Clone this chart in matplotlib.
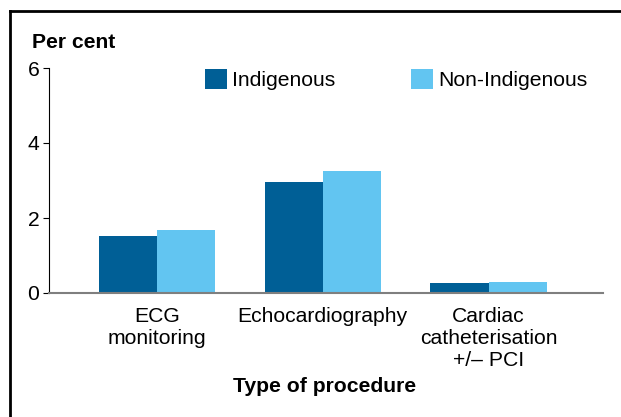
import matplotlib
matplotlib.use("Agg")
import matplotlib.pyplot as plt
from matplotlib.lines import Line2D
import numpy as np

plt.rcParams['font.family'] = ['Liberation Sans', 'DejaVu Sans']

categories = ["ECG\nmonitoring", "Echocardiography", "Cardiac\ncatheterisation\n+/\u2013 PCI"]
indigenous = [1.53, 2.95, 0.26]
non_indigenous = [1.69, 3.25, 0.29]
series_names = ["Indigenous", "Non-Indigenous"]
yticks = [0, 2, 4, 6]

W, H = 621, 417
FS = 15.2
fig = plt.figure(figsize=(W / 100, H / 100), dpi=100)
ax = fig.add_axes([49 / W, 1 - 293 / H, (603 - 49) / W, (293 - 68) / H])

x = np.arange(len(categories))
bw = 0.35
ax.bar(x - bw / 2, indigenous, bw, color="#005F96", label=series_names[0], linewidth=0)
ax.bar(x + bw / 2, non_indigenous, bw, color="#62C5F1", label=series_names[1], linewidth=0)

ax.set_xlim(-0.65, 2.69)
ax.set_ylim(0, 6)
ax.set_yticks(yticks)
ax.set_yticklabels([str(t) for t in yticks], fontsize=FS)
ax.set_xticks(x)
ax.set_xticklabels(categories, fontsize=FS, linespacing=1.2)
ax.tick_params(axis="x", length=0, pad=10)
ax.tick_params(axis="y", length=4, width=0.8, pad=3, direction="out")

for s in ["top", "right"]:
    ax.spines[s].set_visible(False)
ax.spines["left"].set_linewidth(0.8)
ax.spines["left"].set_color("black")
ax.spines["bottom"].set_color("#7f7f7f")
ax.spines["bottom"].set_linewidth(1.5)

leg = ax.legend(ncol=2, frameon=False, fontsize=FS, handlelength=1.04, handleheight=1.09,
                handletextpad=0.25, columnspacing=3.6, loc="upper left",
                bbox_to_anchor=((205 - 49) / (603 - 49) - 0.0155, 1.035), borderaxespad=0)

fig.text(32 / W, 1 - 48 / H, "Per cent", fontsize=FS, fontweight="bold", ha="left", va="baseline")
fig.text(325 / W, 1 - 392 / H, "Type of procedure", fontsize=FS, fontweight="bold", ha="center", va="baseline")

# outer frame: only top and left edges are visible in the image
fx, fy = 9.5 / W, 1 - 11 / H
fig.add_artist(Line2D([fx, 1.2], [fy, fy], transform=fig.transFigure, color="black",
                      linewidth=2, solid_capstyle="projecting", clip_on=False))
fig.add_artist(Line2D([fx, fx], [fy, -0.2], transform=fig.transFigure, color="black",
                      linewidth=2, solid_capstyle="projecting", clip_on=False))

fig.savefig("out.png", dpi=100)
